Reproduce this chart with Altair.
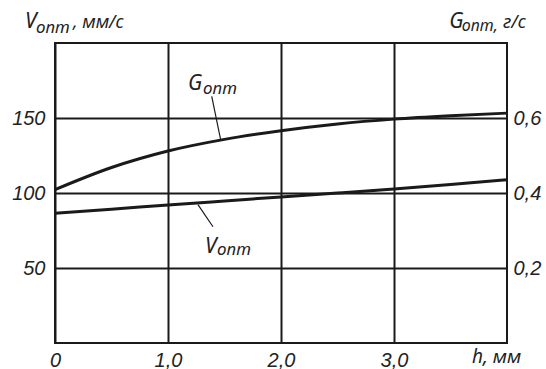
import altair as alt
import pandas as pd

# ---- data ----
h = [0, 0.5, 1, 1.5, 2, 2.5, 3, 3.5, 4]
v_opt = [86.5, 89.2, 92.0, 94.7, 97.4, 100.0, 102.7, 105.7, 108.9]
g_opt = [0.409, 0.468, 0.512, 0.543, 0.566, 0.584, 0.597, 0.606, 0.613]

x_ticks = [0, 1, 2, 3]
v_ticks = [50, 100, 150]
g_ticks = [0.2, 0.4, 0.6]

# annotation texts (positions in data units of h / V axes)
ann_text = ["V", "опт", ", мм/с", "G", "опт,", "г/с", "h, мм", "G", "опт", "V", "опт"]
ann_h = [-0.265, -0.168, 0.159, 3.49, 3.60, 3.965, 3.69, 1.177, 1.31, 1.327, 1.434]
ann_v = [210.2, 206.9, 210.2, 210.2, 207.8, 210.2, -13.5, 168.9, 166.2, 60.2, 58.9]
ann_size = [21, 17, 18, 21, 16, 18, 19, 21, 17, 21, 17]

# leader lines from curve labels to curves
lead_h = [1.387, 1.265]
lead_v = [164.4, 92.2]
lead_h2 = [1.466, 1.398]
lead_v2 = [135.5, 77.5]

INK = "#1a1a1a"
TXT = "#222222"
FONT = "Liberation Sans"
CYR = "Noto Sans"

curves = pd.DataFrame({"h": h, "V": v_opt, "G": g_opt})
ann = pd.DataFrame({"t": ann_text, "h": ann_h, "v": ann_v, "s": ann_size})
leads = pd.DataFrame({"h": lead_h, "v": lead_v, "h2": lead_h2, "v2": lead_v2})

xscale = alt.Scale(domain=[0, 4], nice=False, zero=False)
vscale = alt.Scale(domain=[0, 200], nice=False)
gscale = alt.Scale(domain=[0, 0.8], nice=False)

x_axis = alt.Axis(
    values=x_ticks, grid=True, gridColor=INK, gridWidth=2, gridOpacity=1,
    ticks=False, domain=False, title=None, labelFlush=False,
    labelExpr="datum.value == 0 ? '0' : replace(format(datum.value, '.1f'), '.', ',')",
    labelFont=FONT, labelFontStyle="italic", labelFontSize=20, labelColor=TXT,
    labelPadding=7,
)
v_axis = alt.Axis(
    values=v_ticks, grid=True, gridColor=INK, gridWidth=2, gridOpacity=1,
    ticks=False, domain=False, title=None, orient="left",
    labelFont=FONT, labelFontStyle="italic", labelFontSize=20, labelColor=TXT,
    labelPadding=10,
)
g_axis = alt.Axis(
    values=g_ticks, grid=False, ticks=False, domain=False, title=None, orient="right",
    labelExpr="replace(format(datum.value, '.1f'), '.', ',')",
    labelFont=FONT, labelFontStyle="italic", labelFontSize=20, labelColor=TXT,
    labelPadding=6,
)

v_line = alt.Chart(curves).mark_line(color=INK, strokeWidth=3, interpolate="monotone").encode(
    x=alt.X("h:Q", scale=xscale, axis=x_axis),
    y=alt.Y("V:Q", scale=vscale, axis=v_axis),
)

texts = alt.Chart(ann).mark_text(
    align="left", baseline="alphabetic", font=CYR, fontStyle="italic", color=TXT
).encode(
    x=alt.X("h:Q", scale=xscale),
    y=alt.Y("v:Q", scale=vscale),
    text="t:N",
    size=alt.Size("s:Q", scale=None, legend=None),
)

lead_rules = alt.Chart(leads).mark_rule(color=INK, strokeWidth=1.2).encode(
    x=alt.X("h:Q", scale=xscale),
    y=alt.Y("v:Q", scale=vscale),
    x2="h2:Q",
    y2="v2:Q",
)

v_group = alt.layer(v_line, lead_rules, texts)

g_line = alt.Chart(curves).mark_line(color=INK, strokeWidth=3, interpolate="monotone").encode(
    x=alt.X("h:Q", scale=xscale),
    y=alt.Y("G:Q", scale=gscale, axis=g_axis),
)

chart = alt.layer(v_group, g_line).resolve_scale(y="independent").properties(
    width=452, height=300,
    autosize=alt.AutoSizeParams(type="none"),
    padding={"left": 55, "top": 43, "right": 39, "bottom": 26},
    background="white",
).configure_view(stroke=INK, strokeWidth=2)

chart.save("out.html", embed_options={"renderer": "svg", "actions": False})
